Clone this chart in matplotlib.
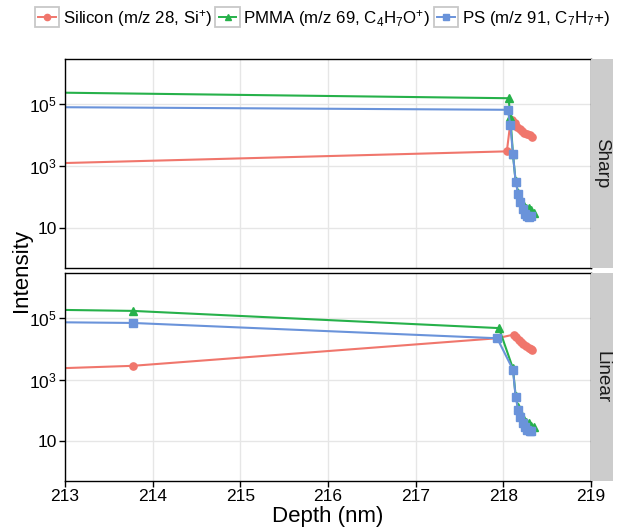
import matplotlib
matplotlib.use("Agg")
import matplotlib.pyplot as plt
from matplotlib.lines import Line2D
from matplotlib.patches import Rectangle
from matplotlib.legend_handler import HandlerBase

plt.rcParams['font.family'] = ['Liberation Sans', 'DejaVu Sans']
plt.rcParams['mathtext.fontset'] = 'custom'
plt.rcParams['mathtext.rm'] = 'Liberation Sans'
plt.rcParams['mathtext.it'] = 'Liberation Sans:italic'
plt.rcParams['mathtext.bf'] = 'Liberation Sans:bold'

# ---- data ----
panels = ['Sharp', 'Linear']
series = ['Silicon (m/z 28, Si$^{+}$)', 'PMMA (m/z 69, C$_4$H$_7$O$^{+}$)', 'PS (m/z 91, C$_7$H$_7$+)']

sharp_si_x = [212.0, 218.04, 218.08, 218.10, 218.13, 218.16, 218.19, 218.21, 218.24, 218.27, 218.30, 218.33]
sharp_si_y = [1.06e3, 3.0e3, 2.5e4, 3.1e4, 2.4e4, 1.9e4, 1.6e4, 1.35e4, 1.2e4, 1.1e4, 1.0e4, 9.0e3]
sharp_pmma_x = [212.0, 218.06, 218.08, 218.11, 218.14, 218.17, 218.20, 218.23, 218.26, 218.29, 218.32, 218.35]
sharp_pmma_y = [2.55e5, 1.56e5, 4.0e4, 2.4e3, 330, 140, 80, 55, 45, 45, 38, 30]
sharp_ps_x = [212.0, 218.05, 218.08, 218.11, 218.14, 218.17, 218.19, 218.23, 218.25, 218.27, 218.29, 218.31]
sharp_ps_y = [8.3e4, 6.6e4, 2.2e4, 2.4e3, 316, 125, 67, 41, 28, 24, 22, 25]

linear_si_x = [212.0, 213.77, 217.93, 218.12, 218.15, 218.18, 218.20, 218.23, 218.26, 218.29, 218.31, 218.33]
linear_si_y = [1.9e3, 2.8e3, 2.2e4, 2.9e4, 2.4e4, 2.0e4, 1.7e4, 1.4e4, 1.2e4, 1.1e4, 1.0e4, 9.0e3]
linear_pmma_x = [212.0, 213.77, 217.95, 218.11, 218.14, 218.17, 218.20, 218.23, 218.26, 218.29, 218.32, 218.35]
linear_pmma_y = [2.0e5, 1.7e5, 4.7e4, 2.3e3, 300, 130, 75, 50, 42, 40, 32, 28]
linear_ps_x = [212.0, 213.77, 217.93, 218.11, 218.14, 218.17, 218.19, 218.22, 218.25, 218.27, 218.30, 218.32]
linear_ps_y = [7.7e4, 6.9e4, 2.2e4, 2.1e3, 280, 100, 62, 38, 30, 23, 21, 22]

colors = ['#F0766C', '#26B14A', '#6A93DA']
markers = ['o', '^', 's']

data = {
    'Sharp': [(sharp_si_x, sharp_si_y), (sharp_pmma_x, sharp_pmma_y), (sharp_ps_x, sharp_ps_y)],
    'Linear': [(linear_si_x, linear_si_y), (linear_pmma_x, linear_pmma_y), (linear_ps_x, linear_ps_y)],
}

ytick_vals = [10, 1e3, 1e5]
ytick_labels = ['10', '$10^3$', '$10^5$']
xticks = [213, 214, 215, 216, 217, 218, 219]


class KeyBox(HandlerBase):
    # ggplot style legend key: grey boxed square with line + marker
    def create_artists(self, legend, orig, xd, yd, w, h, fontsize, trans):
        box = Rectangle((-xd, -yd), w, h, fc='white', ec='#c8c8c8', lw=1.3, transform=trans)
        cy = -yd + h / 2
        ln = Line2D([-xd + 0.15 * w, -xd + 0.85 * w], [cy, cy], color=orig.get_color(),
                    lw=1.4, transform=trans)
        mk = Line2D([-xd + w / 2], [cy], marker=orig.get_marker(), color=orig.get_color(),
                    ms=4.5, ls='none', transform=trans)
        return [box, ln, mk]


fig = plt.figure(figsize=(6.22, 5.29), dpi=100)
left, right = 65 / 622, 591 / 622
strip_w = 22 / 622
boxes = {'Sharp': (1 - 268 / 529, 1 - 59 / 529), 'Linear': (1 - 481 / 529, 1 - 273 / 529)}

handles = []
for name in panels:
    b, t = boxes[name]
    ax = fig.add_axes([left, b, right - left, t - b])
    for i, (xs, ys) in enumerate(data[name]):
        h, = ax.plot(xs, ys, color=colors[i], marker=markers[i], ms=5.2, lw=1.5, label=series[i])
        if name == 'Sharp':
            handles.append(h)
    ax.set_yscale('log')
    ax.set_xlim(213, 219)
    ax.set_ylim(10 ** -0.29, 10 ** 6.46)
    ax.set_yticks(ytick_vals)
    ax.set_yticklabels(ytick_labels)
    ax.minorticks_off()
    ax.set_xticks(xticks)
    ax.grid(True, color='#e6e6e6', lw=1.0)
    ax.set_axisbelow(True)
    for s in ax.spines.values():
        s.set_color('black')
        s.set_linewidth(1.0)
    ax.tick_params(axis='both', direction='out', length=4, width=1, colors='black',
                   labelsize=12.5, pad=2)
    if name == 'Sharp':
        ax.tick_params(axis='x', labelbottom=False, length=0)
    else:
        ax.set_xlabel('Depth (nm)', fontsize=16, labelpad=1)

    # facet strip
    sax = fig.add_axes([right, b, strip_w, t - b])
    sax.set_facecolor('#cccccc')
    sax.set_xticks([])
    sax.set_yticks([])
    for s in sax.spines.values():
        s.set_visible(False)
    sax.text(0.5, 0.5, name, rotation=-90, ha='center', va='center', fontsize=13.5,
             color='#1a1a1a', transform=sax.transAxes)

fig.text(0.034, (boxes['Linear'][0] + boxes['Sharp'][1]) / 2, 'Intensity', rotation=90,
         ha='center', va='center', fontsize=16)

fig.legend(handles=handles, labels=series, loc='center', bbox_to_anchor=(0.518, 1 - 18 / 529),
           ncol=3, frameon=False, fontsize=12.2, handlelength=1.45, handleheight=1.45,
           handletextpad=0.2, columnspacing=0.2, borderpad=0,
           handler_map={Line2D: KeyBox()})

fig.savefig('out.png', dpi=100)
